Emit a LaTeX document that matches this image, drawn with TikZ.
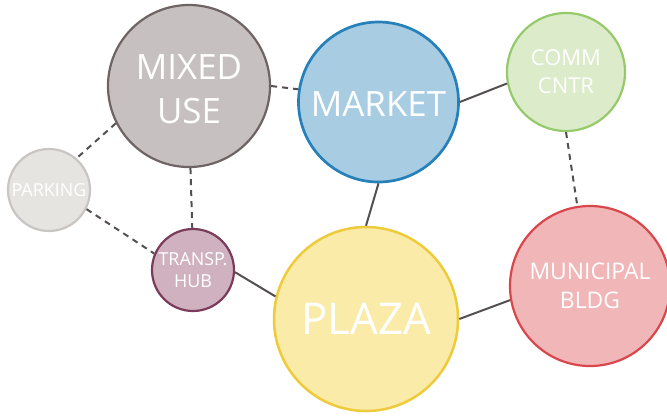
\documentclass[tikz,border=0pt]{standalone}
\usepackage{fontspec}
\setmainfont{Open Sans}
\definecolor{mixfill}{HTML}{C6C1C0}\definecolor{mixline}{HTML}{6E6464}
\definecolor{mktfill}{HTML}{A8CDE3}\definecolor{mktline}{HTML}{2680BA}
\definecolor{comfill}{HTML}{DCEBCA}\definecolor{comline}{HTML}{96C96A}
\definecolor{parfill}{HTML}{E6E4E1}\definecolor{parline}{HTML}{C9C5C2}
\definecolor{hubfill}{HTML}{CFB1BF}\definecolor{hubline}{HTML}{7B3B5A}
\definecolor{plzfill}{HTML}{FAEBA8}\definecolor{plzline}{HTML}{EECB3A}
\definecolor{munfill}{HTML}{F1B7B8}\definecolor{munline}{HTML}{D9474C}
\definecolor{conn}{HTML}{555050}
\tikzset{
  bubble/.style={circle, inner sep=0pt, align=center, text=white, line width=2.2bp},
  lbl/.style={text=white, align=center, inner sep=0pt},
  link/.style={draw=conn, line width=2bp},
  dlink/.style={link, dash pattern=on 6bp off 5bp},
}
\begin{document}
\begin{tikzpicture}[x=1bp,y=-1bp]
\useasboundingbox (0,0) rectangle (667,415);
\node[bubble, fill=mixfill, draw=mixline, minimum size=162bp] (mix) at (189,86) {};
\node[lbl, font=\fontsize{35}{44}\selectfont] (mixt) at (189,89) {MIXED\\USE};
\node[bubble, fill=mktfill, draw=mktline, line width=2.7bp, minimum size=160bp] (mkt) at (378.5,102) {};
\node[lbl, font=\fontsize{35}{44}\selectfont] (mktt) at (378.5,104) {MARKET};
\node[bubble, fill=comfill, draw=comline, minimum size=118bp,
  font=\fontsize{22}{28}\selectfont] (com) at (566,72) {COMM\\CNTR};
\node[bubble, fill=parfill, draw=parline, minimum size=82bp,
  font=\fontsize{18}{22}\selectfont] (par) at (49,190) {PARKING};
\node[bubble, fill=hubfill, draw=hubline, minimum size=82bp,
  font=\fontsize{18}{22}\selectfont] (hub) at (193,270) {TRANSP.\\HUB};
\node[bubble, fill=plzfill, draw=plzline, line width=2.5bp, minimum size=184bp,
  font=\fontsize{44}{54}\selectfont] (plz) at (366,319) {PLAZA};
\node[bubble, fill=munfill, draw=munline, minimum size=160bp,
  font=\fontsize{23}{29}\selectfont] (mun) at (590,286) {MUNICIPAL\\BLDG};
% connectors
\draw[dlink] (mix.0) -- (mkt.171);
\draw[dlink] (mix.207) -- (par.49);
\draw[dlink] (mix.-89) -- (hub.91);
\draw[dlink] (par.-27) -- (hub.157);
\draw[link] (hub.-3) -- (plz.166);
\draw[link] (mkt.-90) -- (plz.90);
\draw[link] (mkt.0) -- (com.191);
\draw[dlink] (com.-90) -- (mun.99);
\draw[link] (plz.0) -- (mun.190);
\end{tikzpicture}
\end{document}
